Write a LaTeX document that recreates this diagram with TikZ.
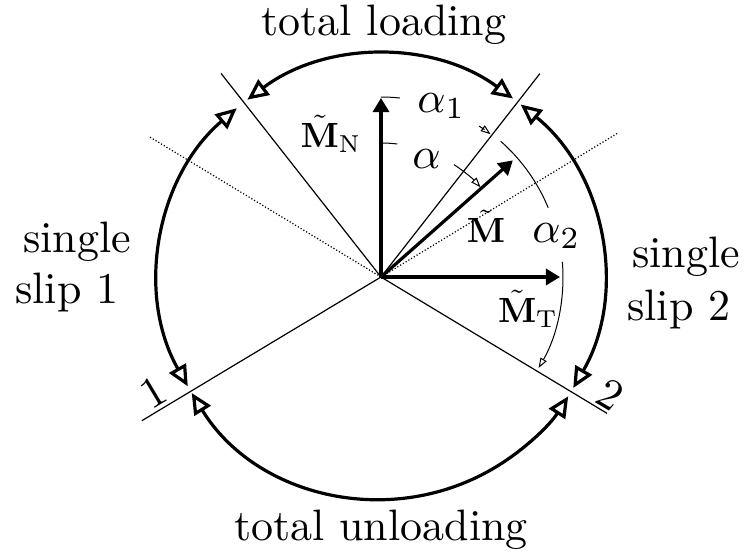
\documentclass[tikz,border=0pt]{standalone}
\usetikzlibrary{arrows.meta}
\definecolor{Ink}{HTML}{000000}

\tikzset{
  slipline/.style={draw=Ink, line width=0.6pt},
  dotline/.style={draw=Ink, line width=0.6pt, densely dotted},
  regime/.style={draw=Ink, line width=1.6pt,
    {Triangle[open,length=10.5pt,width=9.5pt]}-{Triangle[open,length=10.5pt,width=9.5pt]}},
  vec/.style={draw=Ink, line width=1.6pt, -{Triangle[length=7pt,width=8pt]}},
  anglearc/.style={draw=Ink, line width=0.5pt},
  anglehead/.style={anglearc, -{Triangle[open,length=5pt,width=3.5pt]}},
}

\begin{document}
\begin{tikzpicture}[x=0.5pt, y=0.5pt]
      \useasboundingbox (-381,-276) rectangle (365,277);
      \coordinate (O) at (0,0);
      % ── Slip boundaries ──
      \coordinate (upL)    at (128.15:259);
      \coordinate (upR)    at (52:258);
      \coordinate (one)    at (211:279);
      \coordinate (two)    at (-31.1:264);
      \coordinate (oneDot) at (31.3:277);
      \coordinate (twoDot) at (148.8:270);
      \draw[slipline] (O) -- (upL);
      \draw[slipline] (O) -- (upR);
      \draw[slipline] (O) -- (one);
      \draw[slipline] (O) -- (two);
      \draw[dotline]  (O) -- (oneDot);
      \draw[dotline]  (O) -- (twoDot);
      % ── Regimes on the circle ──
      \draw[regime] (127:222)   arc[start angle=127,   end angle=53.5,  radius=222];
      \draw[regime] (130.5:222) arc[start angle=130.5, end angle=209.5, radius=222];
      \draw[regime] (211.5:222) arc[start angle=211.5, end angle=327.5, radius=222];
      \draw[regime] (-30:222)   arc[start angle=-30,   end angle=51,    radius=222];
      % ── Moment vectors ──
      \coordinate (nTip) at (90:179);
      \coordinate (tTip) at (0:179);
      \coordinate (mTip) at (41.5:176);
      \draw[vec] (O) -- (nTip);
      \draw[vec] (O) -- (tTip);
      \draw[vec] (O) -- (mTip);
      % ── Angles ──
      \draw[anglearc]  (90:180)  arc[start angle=90,   end angle=84,   radius=180];
      \draw[anglehead] (57:180)  arc[start angle=57,   end angle=52.5, radius=180];
      \draw[anglearc]  (90:134)  arc[start angle=90,   end angle=83,   radius=134];
      \draw[anglehead] (57:134)  arc[start angle=57,   end angle=42,   radius=134];
      \draw[anglearc]  (48.6:181) arc[start angle=48.6, end angle=22.5, radius=181];
      \draw[anglehead] (4.8:182)  arc[start angle=4.8,  end angle=-30,  radius=182];
      % ── Regime labels ──
      \node[anchor=base, inner sep=0] (load) at (3,242)
        {\scalebox{2.2}{total loading}};
      \node[anchor=base, inner sep=0] (unload) at (0,-263)
        {\scalebox{2.2}{total unloading}};
      \node[anchor=base west, inner sep=0] (singleA) at (-358,25)
        {\scalebox{2.2}{single}};
      \node[anchor=base west, inner sep=0] (slipA) at (-366,-26)
        {\scalebox{2.2}{slip 1}};
      \node[anchor=base west, inner sep=0] (singleB) at (251,10)
        {\scalebox{2.2}{single}};
      \node[anchor=base west, inner sep=0] (slipB) at (246,-43)
        {\scalebox{2.2}{slip 2}};
      \node[rotate=31, inner sep=0] (numOne) at (-228,-115)
        {\scalebox{2.2}{1}};
      \node[rotate=-31, inner sep=0] (numTwo) at (229,-118)
        {\scalebox{2.2}{2}};
      % ── Vector and angle labels ──
      \node[anchor=base, inner sep=0] (lblN) at (-50,130)
        {\scalebox{1.75}{$\tilde{\mathbf{M}}_{\mathrm{N}}$}};
      \node[anchor=base, inner sep=0] (lblM) at (105,35)
        {\scalebox{1.75}{$\tilde{\mathbf{M}}$}};
      \node[anchor=base, inner sep=0] (lblT) at (147,-45)
        {\scalebox{1.75}{$\tilde{\mathbf{M}}_{\mathrm{T}}$}};
      \node[anchor=base west, inner sep=0] (lblA1) at (36,165)
        {\scalebox{2.2}{$\alpha_1$}};
      \node[anchor=base west, inner sep=0] (lblA) at (31,109)
        {\scalebox{2.2}{$\alpha$}};
      \node[anchor=base west, inner sep=0] (lblA2) at (151,35)
        {\scalebox{2.2}{$\alpha_2$}};
\end{tikzpicture}
\end{document}
